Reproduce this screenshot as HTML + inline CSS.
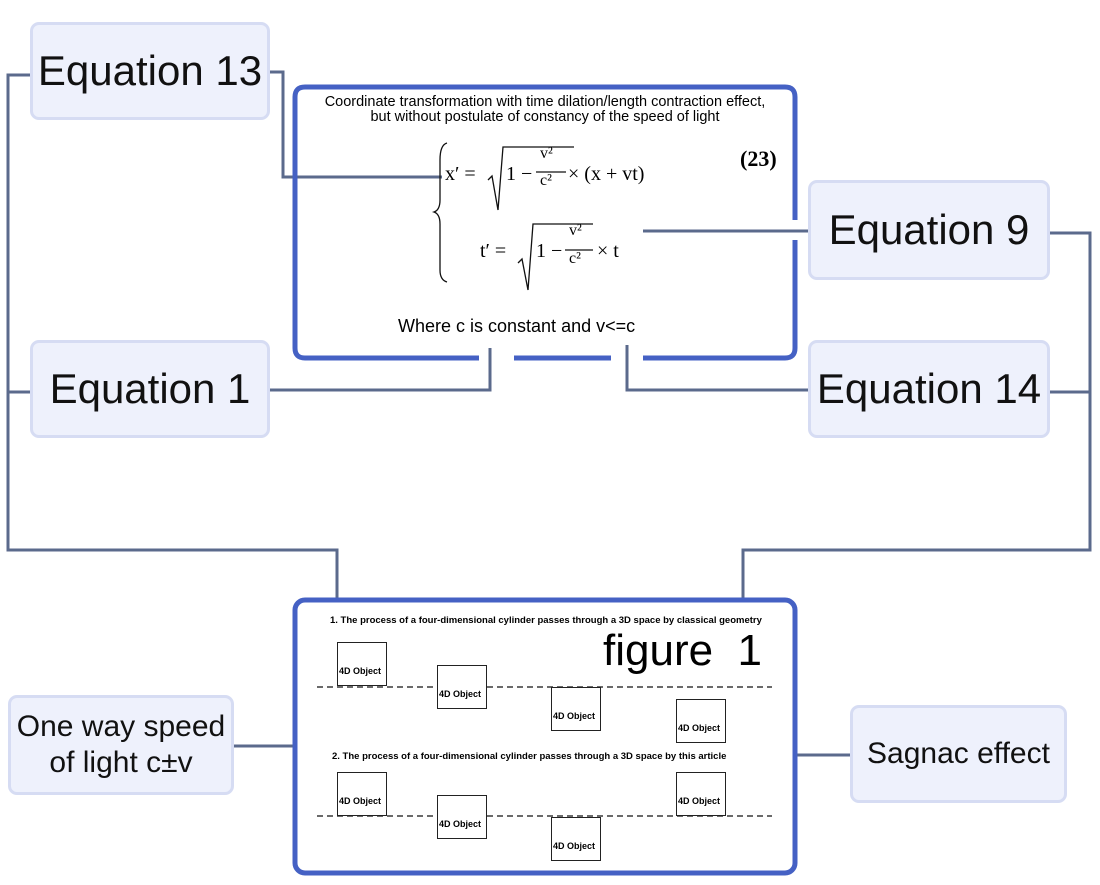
<!DOCTYPE html>
<html><head><meta charset="utf-8"><style>
body{margin:0;width:1100px;height:885px;background:#fff;position:relative;overflow:hidden;font-family:"Liberation Sans","DejaVu Sans",sans-serif}
.n{position:absolute;background:#eef1fc;border:3px solid #d6dcf3;border-radius:9px;box-sizing:border-box;display:flex;align-items:center;justify-content:center;text-align:center;color:#111}
.big{font-size:42px}
.ab{position:absolute;white-space:nowrap}
.ob{position:absolute;width:50px;height:44px;border:1.5px solid #222;box-sizing:border-box;background:#fff;font-size:9px;font-weight:bold;display:flex;align-items:flex-end;padding-bottom:9px;padding-left:1px}
.ser{font-family:"Liberation Serif",serif;font-size:20px;position:absolute;white-space:nowrap}
</style></head><body>
<svg width="1100" height="885" style="position:absolute;left:0;top:0">
<g fill="none" stroke="#5b6a8c" stroke-width="3">
<polyline points="30,75 8,75 8,550 337,550 337,598"/>
<line x1="8" y1="392" x2="30" y2="392"/>
<polyline points="270,72 283,72 283,177 442,177"/>
<polyline points="270,390 490,390 490,348"/>
<polyline points="808,231 643,231"/>
<polyline points="808,390 627,390 627,345"/>
<polyline points="1048,233 1090,233 1090,550 743,550 743,598"/>
<line x1="1048" y1="392" x2="1090" y2="392"/>
<line x1="233" y1="746" x2="293" y2="746"/>
<line x1="797" y1="755" x2="850" y2="755"/>
</g>
<g fill="none" stroke="#4561c4" stroke-width="5">
<path d="M479,358 L305,358 Q295,358 295,348 L295,97 Q295,87 305,87 L785,87 Q795,87 795,97 L795,220"/>
<path d="M795,240 L795,348 Q795,358 785,358 L643,358"/>
<line x1="514" y1="358" x2="611" y2="358"/>
<rect x="295" y="600" width="500" height="273" rx="10"/>
</g>
<g fill="none" stroke="#111" stroke-width="1.3">
<path d="M447,143 Q440,145 440,160 L440,200 Q440,210 434,212 Q440,214 440,224 L440,270 Q440,280 447,282"/>
<polyline points="488,180 492,176 498,210 503,147 574,147"/>
<polyline points="518,263 522,259 528,290 533,224 593,224"/>
<line x1="536" y1="172" x2="566" y2="172"/>
<line x1="565" y1="250" x2="593" y2="250"/>
</g>
<g stroke="#111" stroke-width="1.2" stroke-dasharray="6,4">
<line x1="317" y1="687" x2="772" y2="687"/>
<line x1="317" y1="816" x2="772" y2="816"/>
</g>
</svg>
<div class="n big" style="left:30px;top:22px;width:240px;height:98px">Equation 13</div>
<div class="n big" style="left:30px;top:340px;width:240px;height:98px">Equation 1</div>
<div class="n big" style="left:808px;top:180px;width:242px;height:100px">Equation 9</div>
<div class="n big" style="left:808px;top:340px;width:242px;height:98px">Equation 14</div>
<div class="n" style="left:8px;top:695px;width:226px;height:100px;font-size:30px;line-height:36px">One way speed<br>of light c±v</div>
<div class="n" style="left:850px;top:705px;width:217px;height:98px;font-size:30px">Sagnac effect</div>

<div class="ab" style="left:300px;top:95px;width:490px;text-align:center;font-size:14.5px;line-height:15px">Coordinate transformation with time dilation/length contraction effect,<br>but without postulate of constancy of the speed of light</div>
<div class="ser" style="left:445px;top:163px">x′ =</div>
<div class="ser" style="left:506px;top:163px">1 −</div>
<div class="ser" style="left:540px;top:145px;font-size:16px">v²</div>
<div class="ser" style="left:540px;top:172px;font-size:16px">c²</div>
<div class="ser" style="left:568px;top:163px">× (x + vt)</div>
<div class="ser" style="left:740px;top:146px;font-weight:bold;font-size:22px">(23)</div>
<div class="ser" style="left:480px;top:240px">t′ =</div>
<div class="ser" style="left:536px;top:240px">1 −</div>
<div class="ser" style="left:569px;top:222px;font-size:16px">v²</div>
<div class="ser" style="left:569px;top:250px;font-size:16px">c²</div>
<div class="ser" style="left:597px;top:240px">× t</div>
<div class="ab" style="left:398px;top:316px;font-size:18px">Where c is constant and v&lt;=c</div>

<div class="ab" style="left:330px;top:615px;font-size:9.5px;font-weight:bold">1. The process of a four-dimensional cylinder passes through a 3D space by classical geometry</div>
<div class="ab" style="left:603px;top:626px;font-size:44px;line-height:50px">figure&nbsp; 1</div>
<div class="ob" style="left:337px;top:642px">4D Object</div>
<div class="ob" style="left:437px;top:665px">4D Object</div>
<div class="ob" style="left:551px;top:687px">4D Object</div>
<div class="ob" style="left:676px;top:699px">4D Object</div>
<div class="ab" style="left:332px;top:751px;font-size:9.5px;font-weight:bold">2. The process of a four-dimensional cylinder passes through a 3D space by this article</div>
<div class="ob" style="left:337px;top:772px">4D Object</div>
<div class="ob" style="left:437px;top:795px">4D Object</div>
<div class="ob" style="left:551px;top:817px">4D Object</div>
<div class="ob" style="left:676px;top:772px">4D Object</div>
</body></html>
